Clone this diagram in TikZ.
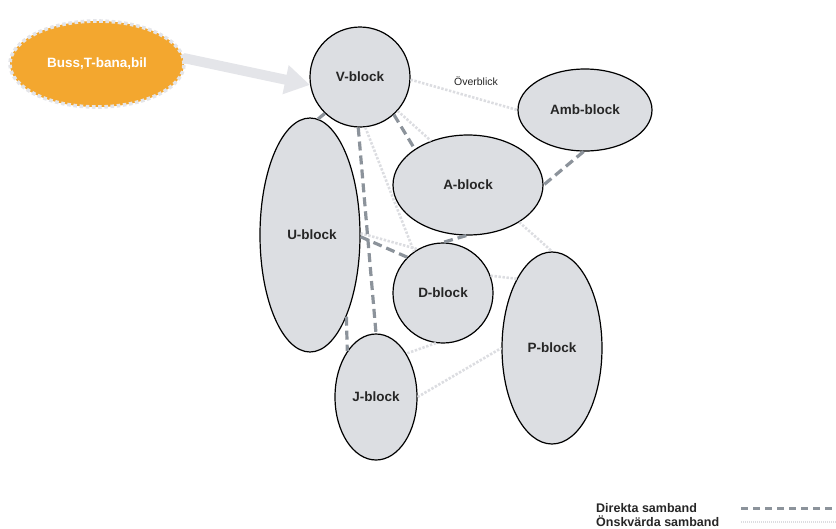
\documentclass[tikz,border=0pt]{standalone}
\usepackage{fontspec}
\setmainfont{Liberation Sans}
\usetikzlibrary{shapes.geometric,arrows.meta}
\definecolor{blockfill}{HTML}{DCDEE2}
\definecolor{directline}{HTML}{8C939B}
\definecolor{wishline}{HTML}{DCDDE1}
\definecolor{transport}{HTML}{F3A72F}
\definecolor{flowarrow}{HTML}{E4E5E9}
\begin{document}
\begin{tikzpicture}[x=1pt,y=-1pt,
  block/.style={ellipse,draw=black,line width=1.2pt,fill=blockfill,inner sep=0pt,
    font=\fontsize{13.5}{15}\selectfont\bfseries,text=black!85},
  direct/.style={draw=directline,line width=3.2pt,dash pattern=on 9pt off 5pt},
  wish/.style={draw=wishline,line width=2.6pt,dash pattern=on 2.4pt off 1.6pt},
  legendtext/.style={anchor=west,inner sep=0pt,font=\fontsize{12.5}{13}\selectfont\bfseries,text=black!85}]
\useasboundingbox (0,0) rectangle (836,528);

% source of travellers
\node[ellipse,fill=transport,inner sep=0pt,minimum width=174pt,minimum height=86pt,
  font=\fontsize{13.5}{15}\selectfont\bfseries,text=white] (buss) at (97,64) {Buss,T-bana,bil};
\draw[flowarrow,line width=3.6pt,dash pattern=on 3.6pt off 2.6pt] (buss.center) ellipse [x radius=87pt,y radius=43pt];

% blocks
\node[block,minimum width=100pt,minimum height=100pt] (V) at (360,77) {V-block};
\node[block,minimum width=134pt,minimum height=82pt] (Amb) at (585,110) {Amb-block};
\node[block,minimum width=150pt,minimum height=100pt] (A) at (468,185) {A-block};
\node[block,minimum width=100pt,minimum height=234pt] (U) at (310,235) {};
\node[font=\fontsize{13.5}{15}\selectfont\bfseries,text=black!85] (Ulabel) at (312,235) {U-block};
\node[block,minimum width=100pt,minimum height=100pt] (D) at (443,293) {D-block};
\node[block,minimum width=100pt,minimum height=192pt] (P) at (552,348) {P-block};
\node[block,minimum width=82pt,minimum height=126pt] (J) at (376,397) {J-block};

% arrival arrow
\draw[flowarrow,line width=10pt,-{Triangle[length=25pt,width=28pt]}] (buss.4) -- (V.189);

% desired links
\draw[wish] (V.357) -- (Amb.180);
\draw[wish] (V.318) -- (A.130);
\draw[wish] (V.276) -- (D.125);
\draw[wish] (U.2) -- (D.120);
\draw[wish] (A.324) -- (P.90);
\draw[wish] (D.20) -- (P.117);
\draw[wish] (D.262) -- (J.55);
\draw[wish] (J.0) -- (P.180);

% direct links
\draw[direct] (V.226) -- (U.86);
\draw[direct] (V.268) -- (J.90);
\draw[direct] (V.312) -- (A.146);
\draw[direct] (Amb.268) -- (A.0);
\draw[direct] (U.358) -- (D.135);
\draw[direct] (A.268) -- (D.90);
\draw[direct] (U.294) -- (J.122);

\node[font=\fontsize{10.5}{12}\selectfont,text=black!85] (overblick) at (476,81) {Överblick};

% legend
\node[legendtext] (leg1) at (596,508) {Direkta samband};
\node[legendtext] (leg2) at (596,521) {Önskvärda samband};
\coordinate (d1) at (741,508);
\coordinate (d2) at (836,508);
\coordinate (w1) at (741,522);
\coordinate (w2) at (836,522);
\draw[direct,line width=3pt,dash pattern=on 7pt off 5pt] (d1) -- (d2);
\draw[wish,line width=1.4pt,dash pattern=on 1.2pt off 0.8pt] (w1) -- (w2);
\end{tikzpicture}
\end{document}
